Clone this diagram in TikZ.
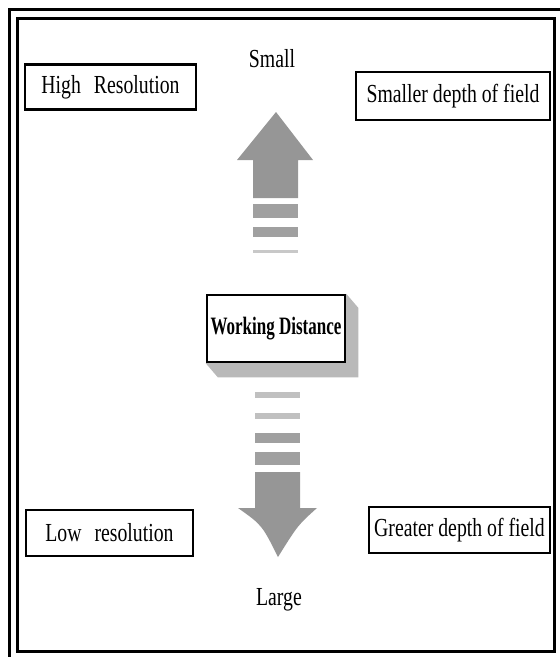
\documentclass[tikz,border=0pt]{standalone}
\usepackage{fontspec}
\setmainfont[FakeStretch=0.76]{Liberation Serif}
\newfontfamily\wdfont[FakeStretch=0.68]{Liberation Serif}
\usetikzlibrary{backgrounds}
\definecolor{arrowgray}{RGB}{150,150,150}
\definecolor{stripegray}{RGB}{160,160,160}
\definecolor{lightstripe}{RGB}{200,200,200}
\definecolor{shadegray}{RGB}{185,185,185}
\tikzset{
  lbox/.style={draw=black, line width=2.5pt, fill=white, inner sep=0pt,
    font=\fontsize{26}{30}\selectfont},
  plain/.style={inner sep=0pt, font=\fontsize{26}{30}\selectfont},
  frameline/.style={line width=2.8pt, draw=black},
  arrowshape/.style={fill=arrowgray, draw=none},
}
\begin{document}
\begin{tikzpicture}[x=1pt,y=-1pt]
\useasboundingbox (0,0) rectangle (560,657);
% frame
\draw[frameline] (9.5,657) -- (9.5,9.5) -- (560,9.5);
\draw[frameline, line width=2.3pt] (17.5,18.5) rectangle (554.5,651.5);

% labels
\node[plain] (small) at (272,59) {Small};
\node[plain] (large) at (279,600) {Large};

% corner boxes
\node[lbox, minimum width=171pt, minimum height=45pt] (high) at (110.5,87) {High\hspace{0.5em}Resolution};
\node[lbox, minimum width=194pt, minimum height=48pt] (smaller) at (453,96) {Smaller depth of field};
\node[lbox, minimum width=167pt, minimum height=46pt] (low) at (109.5,533) {Low\hspace{0.5em}resolution};
\node[lbox, minimum width=181pt, minimum height=46pt] (greater) at (459.5,530) {Greater depth of field};

% up arrow
\fill[arrowshape] (276,112) -- (313,160) -- (298,160) -- (298,198) -- (253,198) -- (253,160) -- (237,160) -- cycle;
\fill[stripegray] (253,204) rectangle (298,218);
\fill[stripegray] (253,227) rectangle (298,237);
\fill[lightstripe] (253,250) rectangle (298,253);

% working distance box
\node[lbox, minimum width=138pt, minimum height=67pt, font=\wdfont\bfseries\fontsize{25}{29}\selectfont] (wd) at (276,328.5) {Working Distance};
\begin{pgfonlayer}{background}
\fill[shadegray] (wd.north east) -- ++(12,14) -- ([shift={(12,14)}]wd.south east) -- ([shift={(12,14)}]wd.south west) -- (wd.south west) -- cycle;
\end{pgfonlayer}

% down arrow
\fill[lightstripe!80!stripegray] (255,392) rectangle (300,398);
\fill[lightstripe!80!stripegray] (255,413) rectangle (300,419);
\fill[stripegray] (255,433) rectangle (300,443);
\fill[stripegray] (255,452) rectangle (300,465);
\fill[arrowshape] (255,472) -- (300,472) -- (300,508) -- (317,508) .. controls (298,525) .. (278,557) .. controls (262,525) .. (238,508) -- (255,508) -- cycle;
\end{tikzpicture}
\end{document}
